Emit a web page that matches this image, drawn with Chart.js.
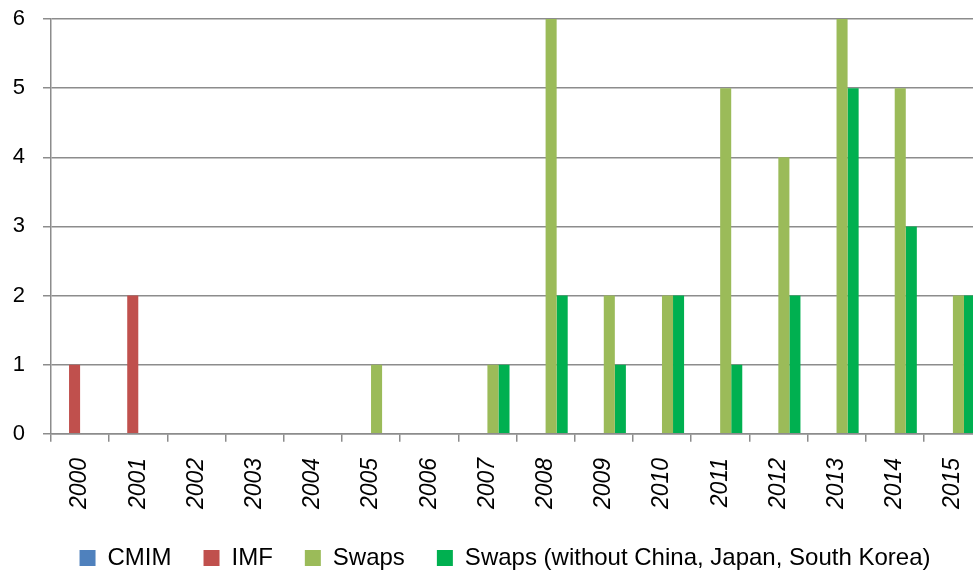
<!DOCTYPE html>
<html>
<head>
<meta charset="utf-8">
<script src="https://cdn.jsdelivr.net/npm/chart.js@4/dist/chart.umd.min.js"></script>
<style>
  html, body { margin: 0; padding: 0; background: #fff; overflow: hidden; }
  #wrap { width: 982px; height: 572px; }
</style>
</head>
<body>
<div id="wrap"><canvas id="chart" width="982" height="572"></canvas></div>
<script>
// Data
const years = ['2000', '2001', '2002', '2003', '2004', '2005', '2006', '2007',
               '2008', '2009', '2010', '2011', '2012', '2013', '2014', '2015'];
const cmim = [0, 0, 0, 0, 0, 0, 0, 0, 0, 0, 0, 0, 0, 0, 0, 0];
const imf = [1, 2, 0, 0, 0, 0, 0, 0, 0, 0, 0, 0, 0, 0, 0, 0];
const swaps = [0, 0, 0, 0, 0, 1, 0, 1, 6, 2, 2, 5, 4, 6, 5, 2];
const swapsOther = [0, 0, 0, 0, 0, 0, 0, 1, 2, 1, 2, 1, 2, 5, 3, 2];
const yTicks = [0, 1, 2, 3, 4, 5, 6];

const gridColor = '#8c8c8c';
const fontFamily = "'Liberation Sans', Arial, sans-serif";

const chartData = {
    labels: years,
    datasets: [
        { label: 'CMIM', data: cmim, backgroundColor: '#4f81bd' },
        { label: 'IMF', data: imf, backgroundColor: '#c0504d' },
        { label: 'Swaps', data: swaps, backgroundColor: '#9bbb59' },
        { label: 'Swaps (without China, Japan, South Korea)', data: swapsOther, backgroundColor: '#00b050' }
    ]
};

// legend in the original sits a bit right of centre and a bit higher
const legendShift = {
    id: 'legendShift',
    afterLayout(chart) {
        const lg = chart.legend;
        lg.left += 14;
        lg.right += 14;
        lg.top -= 11;
        lg.bottom -= 11;
    }
};

new Chart(document.getElementById('chart'), {
    type: 'bar',
    data: chartData,
    plugins: [legendShift],
    options: {
        responsive: false,
        animation: false,
        datasets: {
            bar: { barPercentage: 1.0, categoryPercentage: 0.76 }
        },
        layout: { padding: { top: 19, left: 0, right: 0, bottom: -19 } },
        plugins: {
            tooltip: { enabled: false },
            legend: {
                position: 'bottom',
                labels: {
                    boxWidth: 16,
                    boxHeight: 16,
                    padding: 32,
                    color: '#000',
                    font: { family: fontFamily, size: 24 }
                }
            }
        },
        scales: {
            x: {
                afterFit: axis => {
                    axis.paddingLeft = 0;
                    axis.paddingRight = 0;
                },
                grid: {
                    drawOnChartArea: false,
                    drawTicks: true,
                    tickLength: 8,
                    color: gridColor,
                    lineWidth: 1.5
                },
                border: { display: true, color: gridColor, width: 1.5 },
                ticks: {
                    color: '#000',
                    minRotation: 90,
                    maxRotation: 90,
                    padding: 16,
                    font: { family: fontFamily, size: 23, style: 'italic' }
                }
            },
            y: {
                min: 0,
                max: 6,
                afterBuildTicks: axis => { axis.ticks = yTicks.map(v => ({ value: v })); },
                afterFit: axis => {
                    axis.width = 51;
                    axis.paddingTop = 0;
                    axis.paddingBottom = 0;
                },
                grid: {
                    color: gridColor,
                    lineWidth: 1.5,
                    drawTicks: true,
                    tickLength: 8
                },
                border: { display: true, color: gridColor, width: 1.5 },
                ticks: {
                    color: '#000',
                    padding: 18,
                    font: { family: fontFamily, size: 22 }
                }
            }
        }
    }
});
</script>
</body>
</html>
